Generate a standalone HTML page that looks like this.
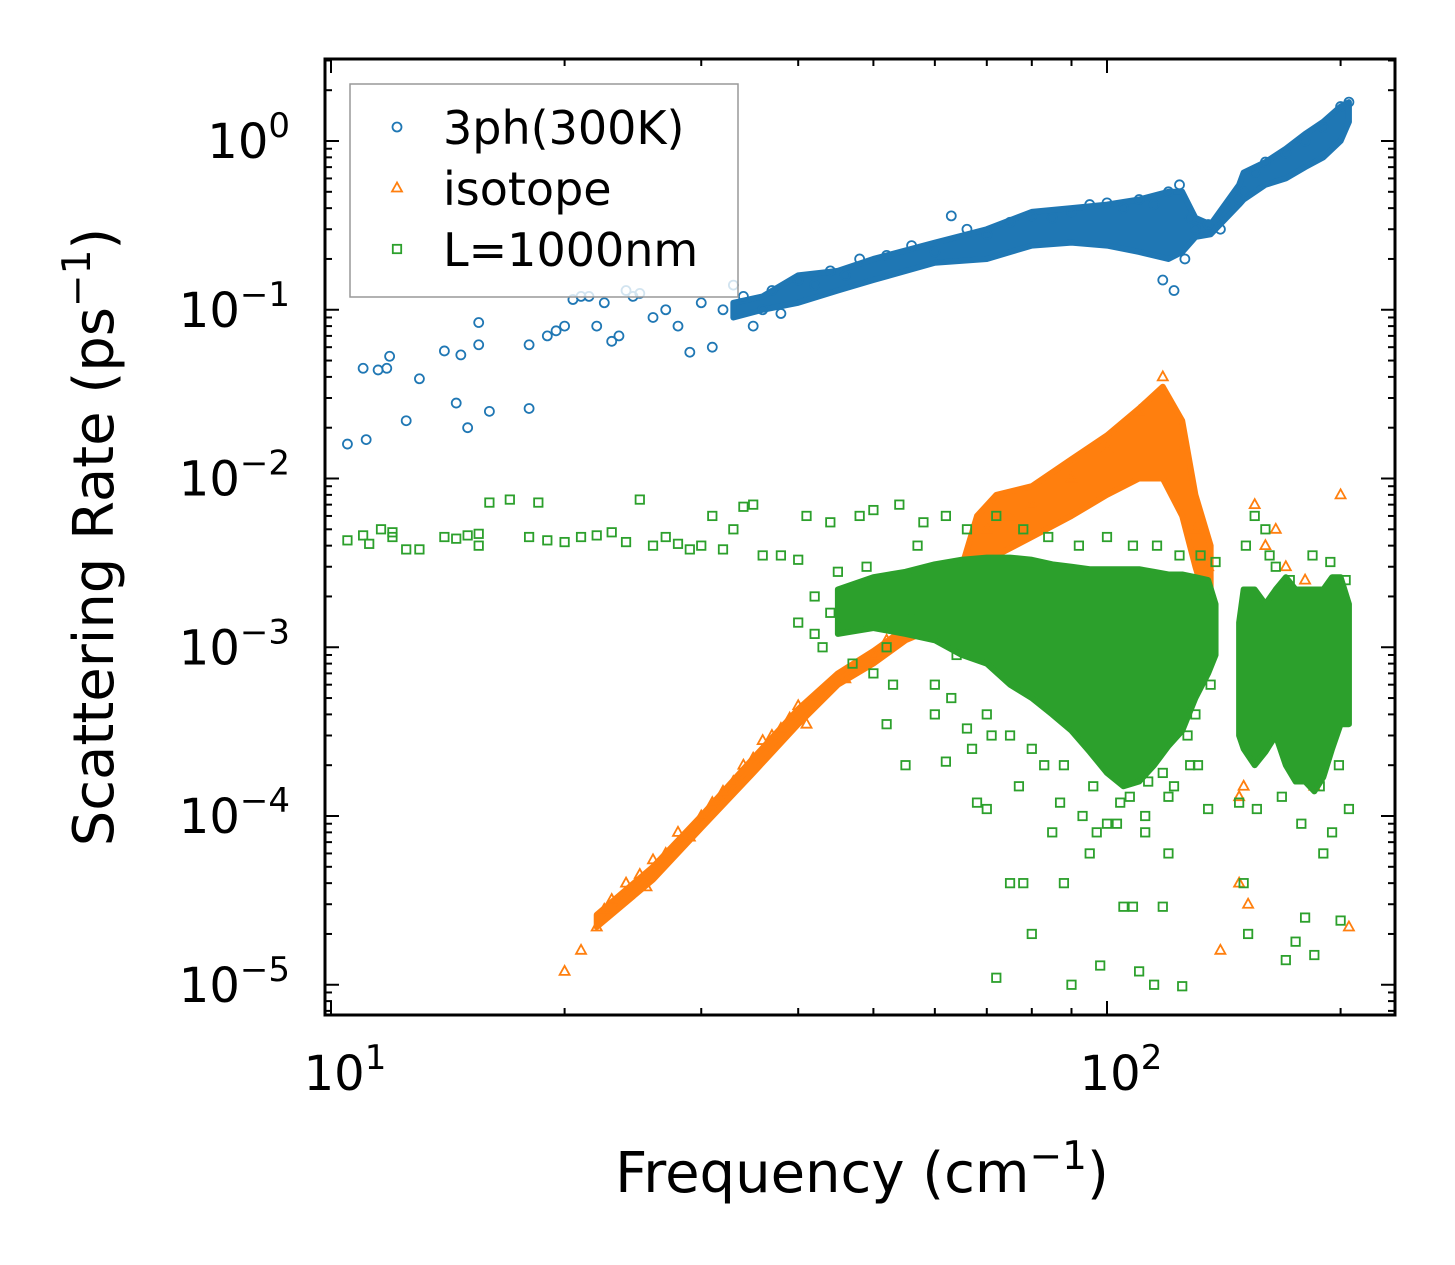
<!DOCTYPE html>
<html><head><meta charset="utf-8"><style>
html,body{margin:0;padding:0;background:#fff;}
svg{display:block;font-family:"DejaVu Sans","Liberation Sans",sans-serif;}
</style></head><body>
<svg id="chart" width="1455" height="1265" viewBox="0 0 1455 1265">
<g id="bands"></g>
<g id="marks"></g>
<g id="axes"></g>
</svg>
<script>
// ---- data (frequency cm^-1, rate ps^-1) ----
const blueX=[10.5,11,11.1,11.5,11.8,11.9,12.5,13,14,14.5,14.7,15,15.5,15.5,16,18,18,19,19.5,20,20.5,21,21.5,22,22.5,23,23.5,24,24.5,25,26,27,28,29,30,31,32,33,34,35,36,37,38,40,42,44,46,48,52,56,60,63,66,70,75,80,85,90,95,100,105,110,115,118,120,122,124,126,128,130,135,140,148,150,155,160,170,180,190,200,205];
const blueY=[0.016,0.045,0.017,0.044,0.045,0.053,0.022,0.039,0.057,0.028,0.054,0.02,0.062,0.084,0.025,0.062,0.026,0.07,0.075,0.08,0.115,0.12,0.12,0.08,0.11,0.065,0.07,0.13,0.12,0.125,0.09,0.1,0.08,0.056,0.11,0.06,0.1,0.14,0.12,0.08,0.1,0.13,0.095,0.15,0.14,0.17,0.16,0.2,0.21,0.24,0.22,0.36,0.3,0.28,0.33,0.36,0.35,0.38,0.42,0.43,0.4,0.45,0.42,0.15,0.5,0.13,0.55,0.2,0.35,0.3,0.32,0.3,0.45,0.5,0.65,0.75,0.85,1.0,1.2,1.6,1.7];
const blueBandX=[33,36,40,45,50,60,70,80,90,100,110,120,125,130,136,148,150,160,170,180,190,200,205];
const blueBandLo=[0.09,0.1,0.11,0.13,0.15,0.19,0.2,0.24,0.25,0.24,0.22,0.2,0.22,0.27,0.28,0.42,0.45,0.55,0.6,0.7,0.8,1.0,1.3];
const blueBandHi=[0.11,0.12,0.16,0.17,0.2,0.25,0.3,0.38,0.4,0.42,0.45,0.5,0.5,0.35,0.32,0.55,0.65,0.75,0.9,1.1,1.3,1.6,1.7];

const orangeX=[20,21,22,22.5,23,24,25,25.5,26,27,28,29,30,31,32,33,34,35,36,37,38,39,40,41,42,44,46,48,50,52,55,58,60,63,66,70,75,80,90,100,110,118,125,130,135,140,148,148,150,152,155,160,165,170,175,180,185,190,195,200,205];
const orangeY=[1.2e-5,1.6e-5,2.2e-5,2.8e-5,3.2e-5,4e-5,4.5e-5,3.8e-5,5.5e-5,6e-5,8e-5,7.5e-5,1e-4,1.2e-4,1.4e-4,1.6e-4,2e-4,2.2e-4,2.8e-4,3e-4,3.3e-4,3.8e-4,4.5e-4,3.5e-4,5e-4,6e-4,6.5e-4,8e-4,9e-4,1.1e-3,1.2e-3,1.4e-3,1.6e-3,2.5e-3,3.5e-3,5e-3,6e-3,7e-3,1e-2,1.5e-2,2.5e-2,4e-2,1.5e-2,5e-3,3e-3,1.6e-5,1.3e-4,4e-5,1.5e-4,3e-5,7e-3,4e-3,5e-3,3e-3,1.2e-3,2.5e-3,1.5e-4,4e-4,1e-3,8e-3,2.2e-5];
const orangeBandX=[22,26,30,35,40,45,50,55,60,65,68,72,80,90,100,110,118,125,130,136];
const orangeBandLo=[2.2e-5,4.2e-5,8.5e-5,1.8e-4,3.5e-4,6e-4,8e-4,1.1e-3,1.3e-3,2e-3,3e-3,3.5e-3,4.5e-3,6e-3,8e-3,1e-2,1e-2,6e-3,3e-3,1.5e-3];
const orangeBandHi=[2.6e-5,5e-5,1e-4,2.2e-4,4.3e-4,7e-4,9.5e-4,1.3e-3,1.7e-3,3e-3,6e-3,8e-3,9e-3,1.3e-2,1.8e-2,2.6e-2,3.5e-2,2.2e-2,8e-3,4e-3];

const greenX=[10.5,11,11.2,11.6,12,12,12.5,13,14,14.5,15,15.5,15.5,16,17,18,18.5,19,20,21,22,23,24,25,26,27,28,29,30,31,32,33,34,35,36,38,40,42,44,50,52,55,60,62,66,68,70,72,75,78,80,85,88,90,95,98,100,105,108,110,112,115,118,120,125,130,135,150,152,155,158,160,165,170,175,180,185,190,195,200,205,
 40,41,42,43,44,46,48,50,52,54,56,58,60,62,64,66,70,72,75,78,80,84,88,92,96,100,104,108,112,116,120,124,128,132,136,138,45,47,49,53,57,63,67,71,77,83,87,93,97,103,107,113,118,122,127,131,148,151,156,162,168,172,178,184,188,194,199,203];
const greenY=[4.3e-3,4.6e-3,4.1e-3,5e-3,4.8e-3,4.5e-3,3.8e-3,3.8e-3,4.5e-3,4.4e-3,4.6e-3,4e-3,4.7e-3,7.2e-3,7.5e-3,4.5e-3,7.2e-3,4.3e-3,4.2e-3,4.5e-3,4.6e-3,4.8e-3,4.2e-3,7.5e-3,4e-3,4.5e-3,4.1e-3,3.8e-3,4e-3,6e-3,3.8e-3,5e-3,6.8e-3,7e-3,3.5e-3,3.5e-3,3.3e-3,1.2e-3,1.6e-3,7e-4,3.5e-4,2e-4,4e-4,2.1e-4,3.3e-4,1.2e-4,1.1e-4,1.1e-5,4e-5,4e-5,2e-5,8e-5,4e-5,1e-5,6e-5,1.3e-5,9e-5,2.9e-5,2.9e-5,1.2e-5,8e-5,1e-5,2.9e-5,6e-5,9.8e-6,4e-4,1.1e-4,4e-5,2e-5,6e-3,6e-4,5e-3,3e-3,1.4e-5,1.8e-5,2.5e-5,1.5e-5,6e-5,8e-5,2.4e-5,1.1e-4,
 1.4e-3,6e-3,2e-3,1e-3,5.5e-3,1.3e-3,6e-3,6.5e-3,1e-3,7e-3,1.5e-3,5.5e-3,6e-4,6e-3,9e-4,5e-3,4e-4,6e-3,3e-4,5e-3,2.5e-4,4.5e-3,2e-4,4e-3,1.5e-4,4.5e-3,1.2e-4,4e-3,1e-4,4e-3,1.3e-4,3.5e-3,2e-4,3.5e-3,6e-4,3.2e-3,2.8e-3,8e-4,3e-3,6e-4,4e-3,5e-4,2.5e-4,3e-4,1.5e-4,2e-4,1.2e-4,1e-4,8e-5,9e-5,1.3e-4,1.6e-4,1.8e-4,1.5e-4,3e-4,2e-4,1.2e-4,4e-3,1.1e-4,3.5e-3,1.3e-4,2.5e-3,9e-5,3.5e-3,1.5e-4,3.2e-3,2e-4,2.5e-3];
const greenBandX=[45,50,55,60,65,70,75,80,85,90,95,100,105,110,115,120,125,130,135,138];
const greenBandLo=[1.2e-3,1.3e-3,1.2e-3,1.1e-3,9e-4,8e-4,6e-4,5e-4,4e-4,3.2e-4,2.4e-4,1.8e-4,1.5e-4,1.6e-4,2e-4,2.6e-4,3.2e-4,5e-4,7e-4,9e-4];
const greenBandHi=[2.2e-3,2.6e-3,2.8e-3,3.1e-3,3.3e-3,3.4e-3,3.4e-3,3.3e-3,3.1e-3,3e-3,2.9e-3,2.9e-3,2.9e-3,2.9e-3,2.8e-3,2.7e-3,2.7e-3,2.6e-3,2.5e-3,1.8e-3];
const green2BandX=[148,150,155,160,165,170,175,180,185,190,195,200,205];
const green2BandLo=[3e-4,2.5e-4,2e-4,2.4e-4,3e-4,2e-4,1.6e-4,1.6e-4,1.4e-4,1.7e-4,2.5e-4,3.5e-4,3.5e-4];
const green2BandHi=[1.4e-3,2.2e-3,2.2e-3,1.8e-3,2.2e-3,2.6e-3,2.2e-3,2.2e-3,2.2e-3,2.2e-3,2.6e-3,2.6e-3,1.8e-3];

const yTickExp=[0,-1,-2,-3,-4,-5];
const xTickExp=[1,2];

// ---- scales ----
const L=325,R=1395,T=59,B=1015;
const x0=331,xDec=776,y0=141,yDec=168.75;
const sx=v=>x0+(Math.log10(v)-1)*xDec;
const sy=v=>y0-Math.log10(v)*yDec;
const NS="http://www.w3.org/2000/svg";
function mk(tag,attrs,parent){const e=document.createElementNS(NS,tag);for(const k in attrs)e.setAttribute(k,attrs[k]);parent.appendChild(e);return e;}
const C={b:"#1f77b4",o:"#ff7f0e",g:"#2ca02c"};
const bands=document.getElementById('bands'),marks=document.getElementById('marks'),axes=document.getElementById('axes');

function band(xs,lo,hi,col,name,parent){
  let pts=xs.map((x,i)=>sx(x)+","+sy(hi[i]));
  for(let i=xs.length-1;i>=0;i--)pts.push(sx(xs[i])+","+sy(lo[i]));
  const p=mk('polygon',{points:pts.join(" "),fill:col,stroke:col,'stroke-width':6,'stroke-linejoin':'round'},parent);
  
  
}
function marker(type,x,y,col,parent){
  let e;
  if(type==='c')e=mk('circle',{cx:x,cy:y,r:4.5,fill:'none',stroke:col,'stroke-width':1.8},parent);
  else if(type==='t')e=mk('polygon',{points:`${x},${y-5.5} ${x-5},${y+3.5} ${x+5},${y+3.5}`,fill:'none',stroke:col,'stroke-width':1.8},parent);
  else e=mk('rect',{x:x-4.2,y:y-4.2,width:8.4,height:8.4,fill:'none',stroke:col,'stroke-width':1.8},parent);
  return e;
}
function series(xs,ys,type,col,name){
  const g=mk('g',{},marks);
  
  
  xs.forEach((x,i)=>{const e=marker(type,sx(x),sy(ys[i]),col,g);
    
    });
}
band(blueBandX,blueBandLo,blueBandHi,C.b,'3ph-dense-band',bands);
series(blueX,blueY,'c',C.b,'series-3ph');
const ob=mk('g',{},marks);
band(orangeBandX,orangeBandLo,orangeBandHi,C.o,'isotope-dense-band',ob);
series(orangeX,orangeY,'t',C.o,'series-isotope');
const gb=mk('g',{},marks);
band(greenBandX,greenBandLo,greenBandHi,C.g,'boundary-dense-band-1',gb);
band(green2BandX,green2BandLo,green2BandHi,C.g,'boundary-dense-band-2',gb);
series(greenX,greenY,'s',C.g,'series-boundary');

// ---- axes ----
mk('rect',{x:L,y:T,width:R-L,height:B-T,fill:'none',stroke:'#000','stroke-width':3},axes);
function tick(x1,y1,x2,y2){mk('line',{x1,y1,x2,y2,stroke:'#000','stroke-width':2},axes);}
for(let d=1;d<=2;d++)for(let m=1;m<10;m++){const v=m*Math.pow(10,d);const x=sx(v);if(x<L||x>R)continue;
  const len=m===1?14:7;tick(x,B,x,B-len);tick(x,T,x,T+len);}
for(let d=-6;d<=0;d++)for(let m=1;m<10;m++){const v=m*Math.pow(10,d);const y=sy(v);if(y<T||y>B)continue;
  const len=m===1?14:7;tick(L,y,L+len,y);tick(R,y,R-len,y);}
function sup(x,y,base,exp,anchor,name){
  const t=mk('text',{x,y,'font-size':48,'text-anchor':anchor,fill:'#000'},axes);
  
  
  const a=mk('tspan',{},t);a.textContent=base;
  const b=mk('tspan',{dy:-21,'font-size':34},t);b.textContent=exp;
}
yTickExp.forEach(e=>sup(290,sy(Math.pow(10,e))+17,"10",e<0?"\u2212"+(-e):String(e),'end','y-tick-label'));
xTickExp.forEach(e=>sup(sx(Math.pow(10,e))+14,1090,"10",String(e),'middle','x-tick-label'));
</script>
<script>
const ax=document.getElementById('axes');
const N="http://www.w3.org/2000/svg";
function el(t,a,p){const e=document.createElementNS(N,t);for(const k in a)e.setAttribute(k,a[k]);p.appendChild(e);return e;}
const xl=el('text',{x:862,y:1192,'font-size':56,'text-anchor':'middle'},ax);


xl.innerHTML='Frequency (cm<tspan dy="-23" font-size="39">\u22121</tspan><tspan dy="23">)</tspan>';
const yl=el('text',{x:0,y:0,'font-size':56,'text-anchor':'middle',transform:'translate(113,537) rotate(-90)'},ax);


yl.innerHTML='Scattering Rate (ps<tspan dy="-23" font-size="39">\u22121</tspan><tspan dy="23">)</tspan>';
const lg=el('g',{},ax);


el('rect',{x:350,y:84,width:388,height:213,fill:'#fff','fill-opacity':0.8,stroke:'#999','stroke-width':1.5},lg);
const items=[["3ph(300K)","#1f77b4","c"],["isotope","#ff7f0e","t"],["L=1000nm","#2ca02c","s"]];
items.forEach((it,i)=>{const y=127+i*61;const x=397;
  let m;
  if(it[2]==='c')m=el('circle',{cx:x,cy:y,r:4.5,fill:'none',stroke:it[1],'stroke-width':1.8},lg);
  else if(it[2]==='t')m=el('polygon',{points:`${x},${y-5.5} ${x-5},${y+3.5} ${x+5},${y+3.5}`,fill:'none',stroke:it[1],'stroke-width':1.8},lg);
  else m=el('rect',{x:x-4.2,y:y-4.2,width:8.4,height:8.4,fill:'none',stroke:it[1],'stroke-width':1.8},lg);
  
  
  const t=el('text',{x:443,y:y+17,'font-size':46},lg);t.textContent=it[0];
  
  
});
</script>
</body></html>
